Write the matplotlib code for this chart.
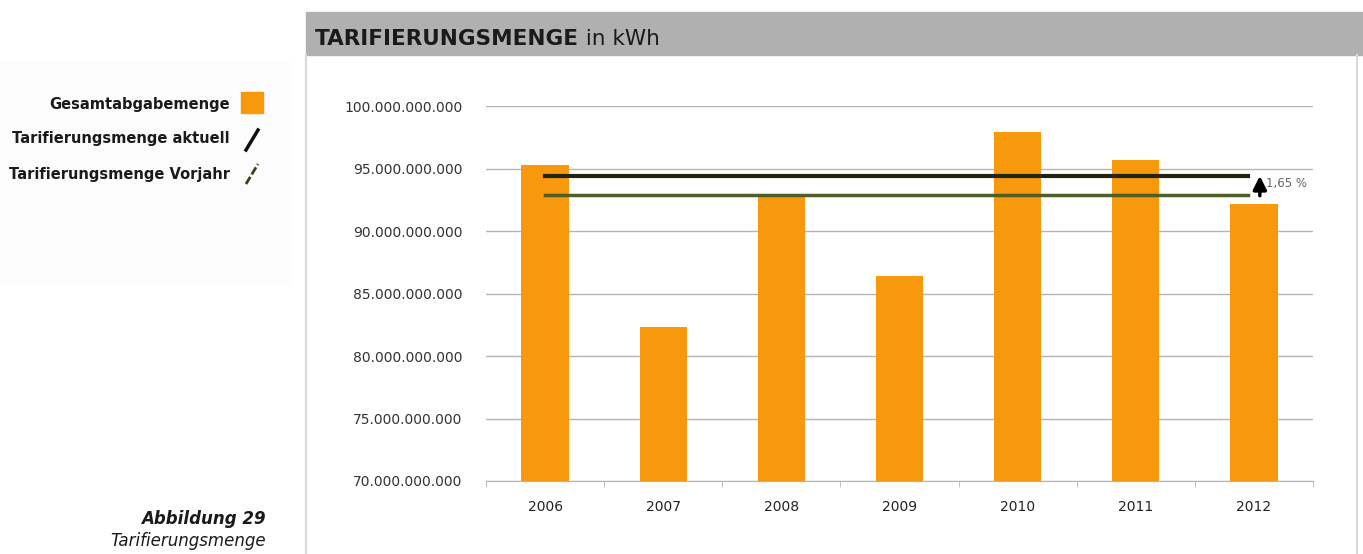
import matplotlib.pyplot as plt
from matplotlib.patches import Rectangle
from matplotlib.lines import Line2D
from matplotlib.ticker import FuncFormatter, FixedLocator

# Daten
years = ['2006', '2007', '2008', '2009', '2010', '2011', '2012']
gesamtabgabe = [95.3e9, 82.3e9, 92.8e9, 86.4e9, 97.9e9, 95.7e9, 92.2e9]
tarif_aktuell = 94.38e9
tarif_vorjahr = 92.85e9
aenderung = '1,65 %'
y_ticks = [70e9, 75e9, 80e9, 85e9, 90e9, 95e9, 100e9]

ORANGE = '#f7980d'
W, H = 1363, 554

fig = plt.figure(figsize=(W / 100, H / 100), dpi=100)
fig.patch.set_facecolor('white')


def fx(px):
    return px / W


def fy(py):
    return 1 - py / H


# leichter Hintergrund links
fig.add_artist(Rectangle((0, fy(282)), fx(290), fy(62) - fy(282),
                         transform=fig.transFigure, color='#fcfcfc', zorder=0))
# Kopfzeile
fig.add_artist(Rectangle((fx(306), fy(55)), 1 - fx(306), fy(12) - fy(55),
                         transform=fig.transFigure, color='#b0b0b0', zorder=0))
# Rahmen des Diagramms
fig.add_artist(Line2D([fx(306), fx(306)], [0, fy(55)], transform=fig.transFigure,
                      color='#dadada', lw=1.5))
fig.add_artist(Line2D([fx(1357), fx(1357)], [0, fy(55)], transform=fig.transFigure,
                      color='#dadada', lw=1.5))

ax = fig.add_axes([fx(486), fy(481), fx(1313) - fx(486), fy(106) - fy(481)])
x = list(range(len(years)))
ax.bar(x, gesamtabgabe, width=0.4, color=ORANGE, zorder=2)

ax.set_xlim(-0.5, len(years) - 0.5)
ax.set_ylim(y_ticks[0], y_ticks[-1])
ax.set_yticks(y_ticks)
ax.yaxis.set_major_formatter(FuncFormatter(lambda v, p: f'{int(v):,}'.replace(',', '.')))
ax.yaxis.grid(True, color='#b4b4b4', lw=1, zorder=1)
ax.tick_params(axis='y', length=0, pad=17, labelsize=10, labelcolor='#333333')

ax.set_xticks(x)
ax.set_xticklabels(years)
ax.xaxis.set_minor_locator(FixedLocator([i - 0.5 for i in range(len(years) + 1)]))
ax.tick_params(axis='x', which='major', length=0, pad=14, labelsize=10, labelcolor='#222222')
ax.tick_params(axis='x', which='minor', length=4, color='#b4b4b4')

for s in ['top', 'right', 'left']:
    ax.spines[s].set_visible(False)
ax.spines['bottom'].set_color('#b4b4b4')

# Tarifierungsmengen
ax.plot([0, len(years) - 1.05], [tarif_aktuell] * 2, color='#1f2410', lw=3, zorder=3)
ax.plot([0, len(years) - 1.05], [tarif_vorjahr] * 2, color='#4f5e26', lw=2.5, zorder=3)
ax.annotate('', xy=(len(years) - 0.95, tarif_aktuell + 0.25e9),
            xytext=(len(years) - 0.95, tarif_vorjahr - 0.25e9),
            arrowprops=dict(arrowstyle='-|>', color='black', lw=2.5, mutation_scale=20),
            zorder=4)
ax.text(len(years) - 0.9, (tarif_aktuell + tarif_vorjahr) / 2 + 0.15e9, aenderung,
        fontsize=8.5, color='#666666', va='center', ha='left')

# Titel
t = fig.text(fx(315), fy(45), 'TARIFIERUNGSMENGE', fontsize=15.5, fontweight='bold',
             color='#1a1a1a', va='baseline', ha='left')
ax.annotate(' in kWh', xy=(1, 0), xycoords=t, va='bottom', ha='left',
            fontsize=15.5, color='#1a1a1a', annotation_clip=False)

# Legende links
legend_items = ['Gesamtabgabemenge', 'Tarifierungsmenge aktuell', 'Tarifierungsmenge Vorjahr']
for i, lbl in enumerate(legend_items):
    fig.text(fx(230), fy(104 + 35 * i), lbl, fontsize=10.5, fontweight='bold',
             color='#1a1a1a', ha='right', va='center')
fig.add_artist(Rectangle((fx(241), fy(113)), fx(22), fy(92) - fy(113),
                         transform=fig.transFigure, color=ORANGE))
fig.add_artist(Line2D([fx(246), fx(258)], [fy(150), fy(130)], transform=fig.transFigure,
                      color='#111111', lw=2.5))
fig.add_artist(Line2D([fx(246), fx(258)], [fy(184), fy(164)], transform=fig.transFigure,
                      color='#3a4220', lw=2, ls=(0, (3, 1))))

# Abbildung
fig.text(fx(266), fy(519), 'Abbildung 29', fontsize=12, fontweight='bold',
         fontstyle='italic', color='#1a1a1a', ha='right', va='center')
fig.text(fx(266), fy(541), 'Tarifierungsmenge', fontsize=12, fontstyle='italic',
         color='#1a1a1a', ha='right', va='center')

fig.savefig('out.png', dpi=100)
